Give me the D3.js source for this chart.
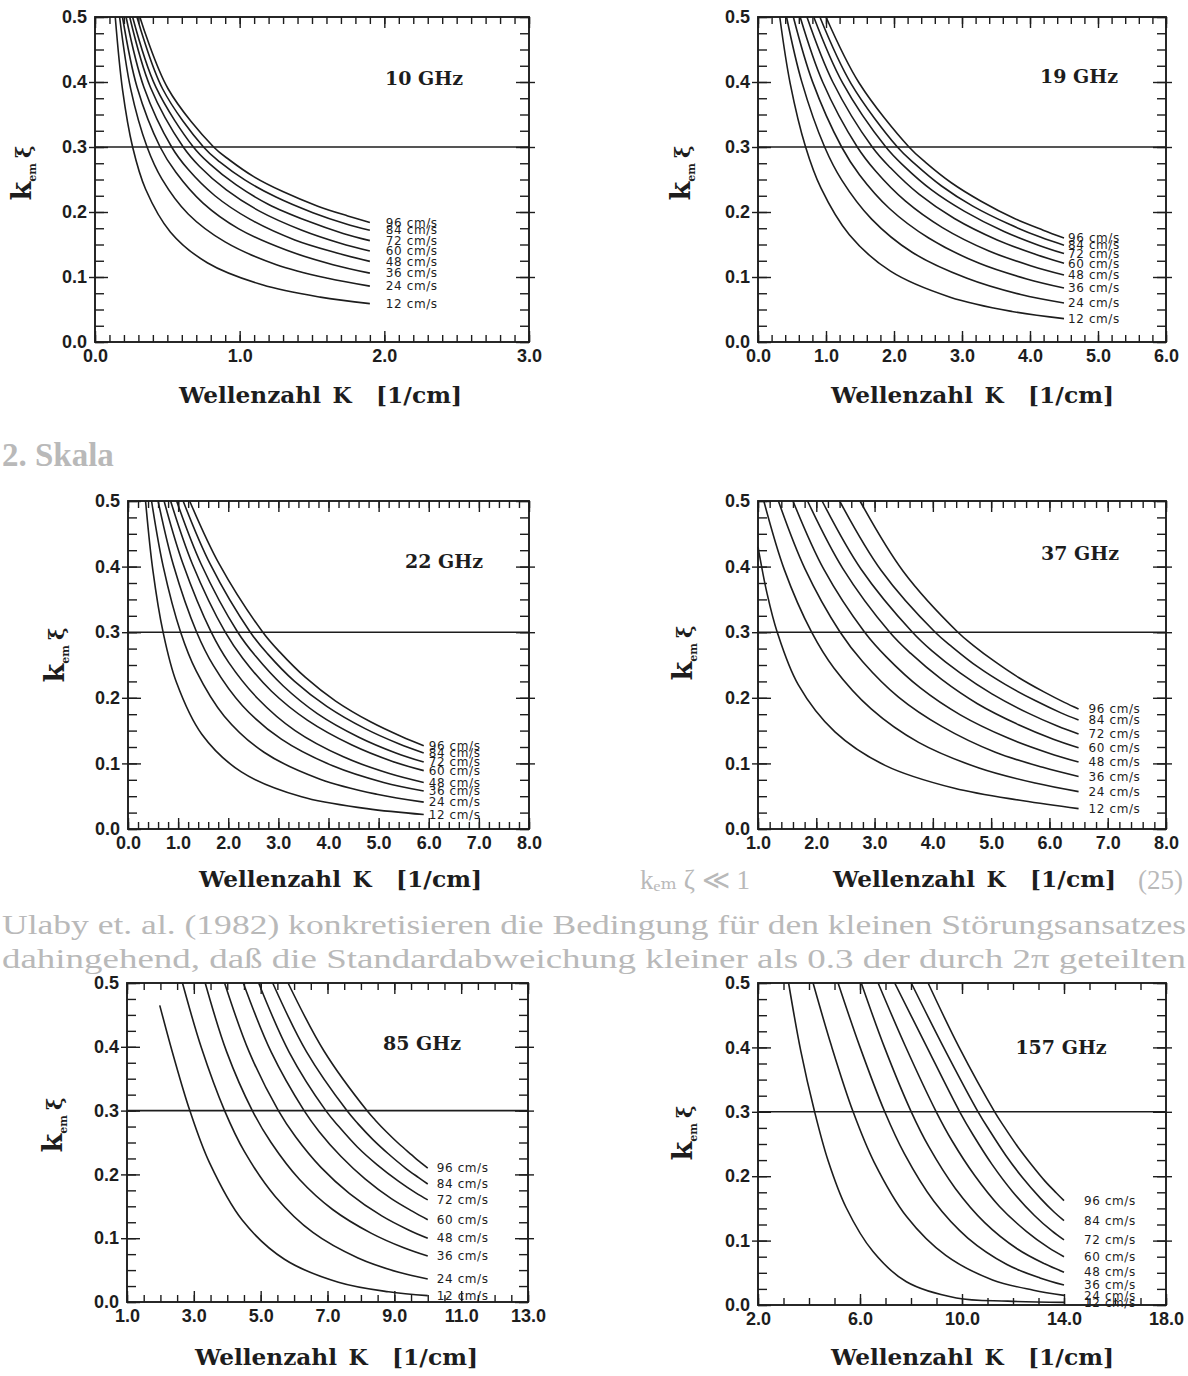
<!DOCTYPE html>
<html>
<head>
<meta charset="utf-8">
<script src="https://cdn.jsdelivr.net/npm/d3@7"></script>
<style>
body { margin: 0; background: #fff; }
</style>
</head>
<body>
<svg id="page" width="1188" height="1376"></svg>
<script>
// wind speeds of the curve families (same in every panel)
const speeds = [12, 24, 36, 48, 60, 72, 84, 96];
const freqLabels = ["10 GHz", "19 GHz", "22 GHz", "37 GHz", "85 GHz", "157 GHz"];
const xDomains = [[0, 3], [0, 6], [0, 8], [1, 8], [1, 13], [2, 18]];
const xTickLabels = [
  [0, 1, 2, 3],
  [0, 1, 2, 3, 4, 5, 6],
  [0, 1, 2, 3, 4, 5, 6, 7, 8],
  [1, 2, 3, 4, 5, 6, 7, 8],
  [1, 3, 5, 7, 9, 11, 13],
  [2, 6, 10, 14, 18]
];
const xMinorSteps = [0.1, 0.2, 0.2, 0.2, 0.5, 1];
const yTickLabels = [0, 0.1, 0.2, 0.3, 0.4, 0.5];
const yMinorStep = 0.025;
const limitValue = 0.3;

// [K, k_em*xi] pairs, one list per wind speed (12 ... 96 cm/s)
const curves10 = [
  [[0.14,0.5],[0.191,0.387],[0.26,0.3],[0.35,0.235],[0.522,0.169],[0.776,0.122],[1.156,0.088],[1.557,0.069],[1.9,0.059]],
  [[0.17,0.5],[0.247,0.389],[0.36,0.3],[0.462,0.251],[0.644,0.197],[0.899,0.154],[1.254,0.119],[1.609,0.098],[1.9,0.086]],
  [[0.19,0.5],[0.292,0.391],[0.45,0.3],[0.559,0.261],[0.745,0.214],[0.994,0.174],[1.326,0.141],[1.645,0.119],[1.9,0.106]],
  [[0.215,0.5],[0.338,0.392],[0.53,0.3],[0.642,0.266],[0.829,0.225],[1.07,0.189],[1.381,0.157],[1.672,0.137],[1.9,0.124]],
  [[0.24,0.5],[0.383,0.392],[0.61,0.3],[0.723,0.27],[0.908,0.234],[1.14,0.201],[1.43,0.172],[1.696,0.152],[1.9,0.14]],
  [[0.26,0.5],[0.421,0.392],[0.68,0.3],[0.793,0.274],[0.974,0.242],[1.197,0.212],[1.47,0.186],[1.715,0.167],[1.9,0.156]],
  [[0.29,0.5],[0.466,0.39],[0.75,0.3],[0.862,0.277],[1.038,0.249],[1.251,0.223],[1.506,0.199],[1.731,0.182],[1.9,0.172]],
  [[0.31,0.5],[0.504,0.39],[0.82,0.3],[0.93,0.28],[1.1,0.254],[1.302,0.231],[1.54,0.209],[1.747,0.194],[1.9,0.184]]
];
const curves19 = [
  [[0.32,0.5],[0.473,0.398],[0.7,0.3],[0.925,0.237],[1.343,0.165],[1.948,0.109],[2.826,0.069],[3.736,0.047],[4.5,0.036]],
  [[0.42,0.5],[0.642,0.401],[0.98,0.3],[1.232,0.249],[1.671,0.189],[2.266,0.138],[3.074,0.098],[3.864,0.073],[4.5,0.06]],
  [[0.52,0.5],[0.8,0.401],[1.23,0.3],[1.494,0.257],[1.937,0.205],[2.51,0.16],[3.254,0.121],[3.952,0.097],[4.5,0.083]],
  [[0.62,0.5],[0.951,0.4],[1.46,0.3],[1.729,0.263],[2.165,0.217],[2.712,0.176],[3.397,0.14],[4.021,0.117],[4.5,0.103]],
  [[0.72,0.5],[1.1,0.4],[1.68,0.3],[1.948,0.268],[2.372,0.227],[2.888,0.19],[3.518,0.157],[4.078,0.135],[4.5,0.121]],
  [[0.82,0.5],[1.242,0.399],[1.88,0.3],[2.143,0.271],[2.552,0.234],[3.038,0.201],[3.618,0.17],[4.124,0.149],[4.5,0.136]],
  [[0.91,0.5],[1.366,0.398],[2.05,0.3],[2.307,0.274],[2.699,0.24],[3.159,0.209],[3.697,0.181],[4.16,0.161],[4.5,0.149]],
  [[1.0,0.5],[1.49,0.398],[2.22,0.3],[2.468,0.276],[2.843,0.245],[3.274,0.217],[3.772,0.19],[4.193,0.172],[4.5,0.16]]
];
const curves22 = [
  [[0.35,0.5],[0.495,0.395],[0.7,0.3],[0.964,0.224],[1.476,0.144],[2.261,0.087],[3.463,0.049],[4.767,0.031],[5.9,0.022]],
  [[0.47,0.5],[0.703,0.4],[1.05,0.3],[1.36,0.241],[1.921,0.172],[2.713,0.117],[3.832,0.076],[4.965,0.053],[5.9,0.041]],
  [[0.6,0.5],[0.907,0.402],[1.37,0.3],[1.705,0.249],[2.284,0.188],[3.059,0.137],[4.096,0.096],[5.099,0.071],[5.9,0.058]],
  [[0.72,0.5],[1.093,0.405],[1.66,0.3],[2.008,0.254],[2.587,0.199],[3.334,0.15],[4.297,0.11],[5.198,0.085],[5.9,0.071]],
  [[0.85,0.5],[1.284,0.404],[1.94,0.3],[2.292,0.26],[2.863,0.21],[3.577,0.166],[4.468,0.128],[5.279,0.103],[5.9,0.089]],
  [[0.97,0.5],[1.458,0.404],[2.19,0.3],[2.541,0.264],[3.098,0.218],[3.777,0.176],[4.605,0.14],[5.344,0.116],[5.9,0.102]],
  [[1.1,0.5],[1.638,0.404],[2.44,0.3],[2.786,0.267],[3.324,0.225],[3.966,0.187],[4.731,0.153],[5.401,0.13],[5.9,0.116]],
  [[1.23,0.5],[1.819,0.404],[2.69,0.3],[3.026,0.27],[3.541,0.231],[4.143,0.195],[4.848,0.163],[5.455,0.141],[5.9,0.127]]
];
const curves37 = [
  [[1.0,0.43],[1.153,0.36],[1.33,0.3],[1.69,0.22],[2.32,0.148],[3.18,0.097],[4.37,0.062],[5.55,0.043],[6.5,0.031]],
  [[1.1,0.5],[1.453,0.395],[1.92,0.3],[2.305,0.245],[2.942,0.183],[3.755,0.132],[4.792,0.093],[5.754,0.07],[6.5,0.057]],
  [[1.35,0.5],[1.804,0.397],[2.41,0.3],[2.797,0.255],[3.411,0.201],[4.159,0.156],[5.072,0.117],[5.886,0.094],[6.5,0.08]],
  [[1.6,0.5],[2.128,0.396],[2.83,0.3],[3.206,0.262],[3.786,0.215],[4.471,0.174],[5.28,0.139],[5.982,0.116],[6.5,0.102]],
  [[1.85,0.5],[2.456,0.397],[3.26,0.3],[3.616,0.268],[4.151,0.228],[4.765,0.191],[5.47,0.159],[6.067,0.137],[6.5,0.124]],
  [[2.1,0.5],[2.769,0.396],[3.65,0.3],[3.98,0.272],[4.467,0.238],[5.013,0.206],[5.627,0.177],[6.136,0.157],[6.5,0.145]],
  [[2.4,0.5],[3.114,0.394],[4.04,0.3],[4.339,0.277],[4.772,0.247],[5.248,0.22],[5.772,0.195],[6.198,0.177],[6.5,0.166]],
  [[2.75,0.5],[3.49,0.393],[4.43,0.3],[4.692,0.28],[5.066,0.255],[5.47,0.231],[5.906,0.209],[6.256,0.193],[6.5,0.183]]
];
const curves85 = [
  [[1.98,0.465],[2.388,0.386],[2.88,0.3],[3.471,0.218],[4.453,0.128],[5.711,0.067],[7.326,0.031],[8.83,0.016],[10,0.01]],
  [[2.66,0.5],[3.229,0.398],[3.92,0.3],[4.511,0.236],[5.441,0.165],[6.562,0.109],[7.913,0.069],[9.106,0.047],[10,0.036]],
  [[3.34,0.5],[3.983,0.392],[4.75,0.3],[5.311,0.25],[6.164,0.192],[7.153,0.145],[8.302,0.108],[9.283,0.085],[10,0.072]],
  [[3.92,0.5],[4.656,0.392],[5.53,0.3],[6.044,0.259],[6.804,0.211],[7.66,0.17],[8.624,0.135],[9.425,0.113],[10,0.1]],
  [[4.48,0.5],[5.313,0.392],[6.3,0.3],[6.752,0.267],[7.406,0.228],[8.123,0.193],[8.909,0.162],[9.548,0.142],[10,0.129]],
  [[4.94,0.5],[5.859,0.391],[6.95,0.3],[7.34,0.275],[7.894,0.243],[8.489,0.215],[9.131,0.189],[9.642,0.171],[10,0.16]],
  [[5.36,0.5],[6.374,0.392],[7.58,0.3],[7.902,0.28],[8.352,0.255],[8.828,0.232],[9.331,0.21],[9.727,0.195],[10,0.185]],
  [[5.82,0.5],[6.9,0.393],[8.18,0.3],[8.43,0.285],[8.776,0.266],[9.135,0.248],[9.51,0.231],[9.801,0.218],[10,0.21]]
];
const curves157 = [
  [[3.2,0.5],[3.675,0.395],[4.22,0.3],[4.75,0.224],[5.46,0.151],[6.51,0.083],[7.82,0.036],[9.78,0.011],[11.8,0.006],[14,0.004]],
  [[4.16,0.5],[4.882,0.402],[5.73,0.3],[6.552,0.222],[7.834,0.137],[9.365,0.077],[11.197,0.039],[12.804,0.023],[14,0.015]],
  [[5.14,0.5],[5.986,0.402],[6.97,0.3],[7.739,0.235],[8.897,0.161],[10.228,0.104],[11.761,0.063],[13.058,0.042],[14,0.031]],
  [[6.05,0.5],[6.961,0.4],[8.01,0.3],[8.71,0.245],[9.739,0.181],[10.89,0.128],[12.176,0.087],[13.241,0.064],[14,0.051]],
  [[6.71,0.5],[7.767,0.403],[8.99,0.3],[9.609,0.255],[10.498,0.201],[11.47,0.153],[12.534,0.114],[13.394,0.089],[14,0.075]],
  [[7.36,0.5],[8.54,0.407],[9.91,0.3],[10.437,0.264],[11.183,0.218],[11.984,0.176],[12.841,0.139],[13.525,0.115],[14,0.101]],
  [[8.01,0.5],[9.228,0.404],[10.63,0.3],[11.079,0.271],[11.706,0.233],[12.369,0.198],[13.07,0.166],[13.62,0.144],[14,0.131]],
  [[8.67,0.5],[9.889,0.4],[11.28,0.3],[11.651,0.277],[12.165,0.247],[12.703,0.219],[13.264,0.192],[13.701,0.174],[14,0.162]]
];

// faint text of the scanned page that shows between the rows of plots
const pageText = [
  "2. Skala",
  "k\u2091\u2098 ζ ≪ 1",
  "(25)",
  "Ulaby et. al. (1982) konkretisieren die Bedingung für den kleinen Störungsansatzes",
  "dahingehend, daß die Standardabweichung kleiner als 0.3 der durch 2π geteilten"
];
// x, baseline y, width (0 = natural width)
const pageTextPos = [
  [2, 466, 0], [640, 889, 0], [1138, 889, 0], [2, 934, 1184], [2, 968, 1184]
];

var ink = "#1d1d1d";
var svg = d3.select("#page");

svg.append("rect").attr("width", 1188).attr("height", 1376).attr("fill", "#fff");

var bg = svg.append("g")
    .attr("fill", "#b9b9b9")
    .attr("font-family", "'Liberation Serif', 'DejaVu Serif', serif")
    .attr("font-size", 27);

pageText.forEach(function(s, i) {
  var p = pageTextPos[i];
  var t = bg.append("text").attr("x", p[0]).attr("y", p[1]).text(s);
  if (p[2] > 0) t.attr("textLength", p[2]).attr("lengthAdjust", "spacingAndGlyphs");
  if (s == "2. Skala") t.attr("font-weight", "bold").attr("font-size", 33);
});

// panel geometry on the page
var boxes = [
  {l: 95,  r: 529,  t: 17,  b: 342,  tx: 321, ty: 403,  fx: 424,  fy: 85,   ylx: 31,  yly: 173,  off: 16},
  {l: 758, r: 1166, t: 17,  b: 342,  tx: 973, ty: 403,  fx: 1079, fy: 83,   ylx: 690, yly: 173,  off: 4},
  {l: 128, r: 529,  t: 501, b: 829,  tx: 341, ty: 887,  fx: 444,  fy: 568,  ylx: 64,  yly: 655,  off: 5},
  {l: 758, r: 1166, t: 501, b: 829,  tx: 975, ty: 887,  fx: 1080, fy: 560,  ylx: 692, yly: 653,  off: 10},
  {l: 127, r: 528,  t: 983, b: 1302, tx: 337, ty: 1365, fx: 422,  fy: 1050, ylx: 62,  yly: 1125, off: 9},
  {l: 758, r: 1166, t: 983, b: 1305, tx: 973, ty: 1365, fx: 1061, fy: 1054, ylx: 692, yly: 1133, off: 20}
];

function drawPanel(i, curves) {
  var b = boxes[i];
  var dom = xDomains[i];

  var x = d3.scaleLinear().domain(dom).range([b.l, b.r]);
  var y = d3.scaleLinear().domain([0, 0.5]).range([b.b, b.t]);

  var n = Math.round((dom[1] - dom[0]) / xMinorSteps[i]);
  var xMinor = d3.range(n + 1).map(function(k) { return dom[0] + k * xMinorSteps[i]; });
  var yMinor = d3.range(21).map(function(k) { return k * yMinorStep; });

  var g = svg.append("g");

  // small ticks on all four sides, pointing in
  g.append("g").attr("transform", "translate(0," + b.b + ")")
    .call(d3.axisBottom(x).tickValues(xMinor).tickSize(-7).tickFormat(""));
  g.append("g").attr("transform", "translate(0," + b.t + ")")
    .call(d3.axisTop(x).tickValues(xMinor).tickSize(-7).tickFormat(""));
  g.append("g").attr("transform", "translate(" + b.l + ",0)")
    .call(d3.axisLeft(y).tickValues(yMinor).tickSize(-9).tickFormat(""));
  g.append("g").attr("transform", "translate(" + b.r + ",0)")
    .call(d3.axisRight(y).tickValues(yMinor).tickSize(-9).tickFormat(""));

  // labelled ticks
  g.append("g").attr("class", "lab").attr("transform", "translate(0," + b.b + ")")
    .call(d3.axisBottom(x).tickValues(xTickLabels[i]).tickSize(-11).tickPadding(7).tickFormat(d3.format(".1f")));
  g.append("g").attr("transform", "translate(0," + b.t + ")")
    .call(d3.axisTop(x).tickValues(xTickLabels[i]).tickSize(-11).tickFormat(""));
  g.append("g").attr("class", "lab").attr("transform", "translate(" + b.l + ",0)")
    .call(d3.axisLeft(y).tickValues(yTickLabels).tickSize(-13).tickPadding(8).tickFormat(d3.format(".1f")));
  g.append("g").attr("transform", "translate(" + b.r + ",0)")
    .call(d3.axisRight(y).tickValues(yTickLabels).tickSize(-13).tickFormat(""));
  // major y ticks poke out of the frame a little
  g.append("g").attr("transform", "translate(" + b.l + ",0)")
    .call(d3.axisLeft(y).tickValues(yTickLabels.slice(1, 5)).tickSize(6).tickFormat(""));
  g.append("g").attr("transform", "translate(" + b.r + ",0)")
    .call(d3.axisRight(y).tickValues(yTickLabels.slice(1, 5)).tickSize(6).tickFormat(""));

  g.selectAll(".domain").remove();
  g.selectAll(".tick line").attr("stroke", ink).attr("stroke-width", 1.4);
  g.selectAll(".lab text")
    .attr("fill", ink)
    .attr("font-family", "'Liberation Sans', Arial, sans-serif")
    .attr("font-weight", "bold")
    .attr("font-size", 18);

  g.append("rect")
    .attr("x", b.l).attr("y", b.t)
    .attr("width", b.r - b.l).attr("height", b.b - b.t)
    .attr("fill", "none").attr("stroke", ink).attr("stroke-width", 1.9);

  g.append("line")
    .attr("x1", b.l).attr("x2", b.r)
    .attr("y1", y(limitValue)).attr("y2", y(limitValue))
    .attr("stroke", ink).attr("stroke-width", 1.6);

  var line = d3.line()
    .x(function(d) { return x(d[0]); })
    .y(function(d) { return y(d[1]); })
    .curve(d3.curveCatmullRom.alpha(0.5));

  g.append("g")
    .selectAll("path")
    .data(curves)
    .join("path")
    .attr("d", line)
    .attr("fill", "none")
    .attr("stroke", ink)
    .attr("stroke-width", 1.6);

  g.append("g")
    .attr("fill", ink)
    .attr("font-family", "'DejaVu Sans', sans-serif")
    .attr("font-size", 12)
    .attr("letter-spacing", 0.6)
    .selectAll("text")
    .data(curves)
    .join("text")
    .attr("x", function(d) { return x(d[d.length - 1][0]) + b.off; })
    .attr("y", function(d) { return y(d[d.length - 1][1]); })
    .attr("dy", "0.35em")
    .text(function(d, j) { return speeds[j] + " cm/s"; });

  g.append("text")
    .attr("x", b.fx).attr("y", b.fy)
    .attr("text-anchor", "middle")
    .attr("fill", ink)
    .attr("font-family", "'DejaVu Serif', serif")
    .attr("font-weight", "bold")
    .attr("font-size", 19)
    .text(freqLabels[i]);

  // y axis title  k_em xi
  var yl = g.append("text")
    .attr("transform", "translate(" + b.ylx + "," + b.yly + ") rotate(-90)")
    .attr("text-anchor", "middle")
    .attr("fill", ink)
    .attr("font-family", "'DejaVu Serif', serif")
    .attr("font-weight", "bold");
  yl.append("tspan").attr("font-size", 27).text("k");
  yl.append("tspan").attr("font-size", 11).attr("dy", 5).text("em");
  yl.append("tspan").attr("font-size", 21).attr("dy", -5).attr("dx", 5).text("ξ");

  // x axis title
  var xt = g.append("g")
    .attr("fill", ink)
    .attr("font-family", "'DejaVu Serif', serif")
    .attr("font-weight", "bold")
    .attr("font-size", 22);
  xt.append("text").attr("x", b.tx - 142).attr("y", b.ty)
    .attr("textLength", 142).attr("lengthAdjust", "spacingAndGlyphs").text("Wellenzahl");
  xt.append("text").attr("x", b.tx + 21).attr("y", b.ty).attr("text-anchor", "middle").text("K");
  xt.append("text").attr("x", b.tx + 55).attr("y", b.ty)
    .attr("textLength", 86).attr("lengthAdjust", "spacingAndGlyphs").text("[1/cm]");
}

drawPanel(0, curves10);
drawPanel(1, curves19);
drawPanel(2, curves22);
drawPanel(3, curves37);
drawPanel(4, curves85);
drawPanel(5, curves157);
</script>
</body>
</html>
